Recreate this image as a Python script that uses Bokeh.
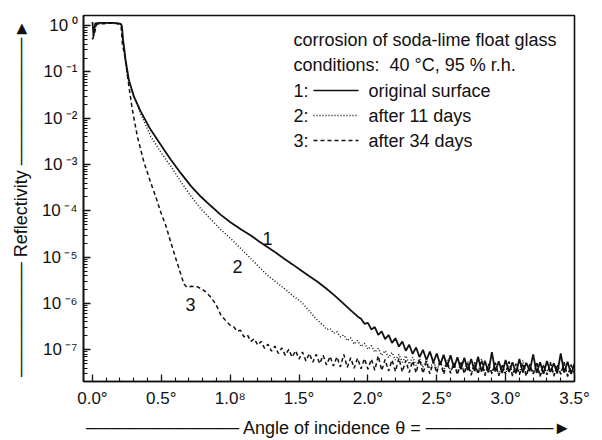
import numpy as np
from bokeh.plotting import figure
from bokeh.models import (Range1d, FixedTicker, LogTicker, CustomJSTickFormatter,
                          Label, Arrow)
from bokeh.embed import file_html
from bokeh.resources import INLINE

FONT = "Liberation Sans"

# ---------------- data (log10 of reflectivity) ----------------
# curve 1: original surface (smooth part)
theta1 = [0.0, 0.008, 0.02, 0.05, 0.10, 0.15, 0.19, 0.205, 0.213, 0.218, 0.222, 0.229,
          0.241, 0.265, 0.302, 0.35, 0.423, 0.52, 0.568, 0.64, 0.714, 0.786, 0.859, 0.93,
          1.004, 1.08, 1.15, 1.21, 1.27, 1.33, 1.39, 1.45, 1.513, 1.57, 1.634, 1.695,
          1.755, 1.815, 1.876, 1.925]
logr1 = [0.08, -0.22, 0.05, 0.06, 0.06, 0.06, 0.05, 0.04, 0.0, -0.15, -0.3, -0.45,
         -0.75, -1.18, -1.54, -1.85, -2.25, -2.68, -2.89, -3.18, -3.46, -3.69, -3.89, -4.08,
         -4.25, -4.40, -4.53, -4.66, -4.78, -4.90, -5.03, -5.15, -5.28, -5.40, -5.53, -5.67,
         -5.82, -5.98, -6.15, -6.28]
# curve 1 noisy tail, from 1.95 deg in steps of 0.025 deg
tail1_start = 1.95
tail1 = [-6.33, -6.44, -6.42, -6.56, -6.51, -6.68, -6.60, -6.77, -6.68, -6.85,
         -6.75, -6.93, -6.82, -7.02, -6.89, -7.09, -6.95, -7.16, -7.00, -7.22,
         -7.04, -7.27, -7.08, -7.32, -7.11, -7.36, -7.12, -7.39, -7.16, -7.42,
         -7.17, -7.44, -7.20, -7.46, -7.15, -7.47, -7.24, -7.49, -7.05, -7.47,
         -7.25, -7.50, -7.22, -7.48, -7.27, -7.51, -7.20, -7.49, -7.28, -7.46,
         -7.10, -7.50, -7.27, -7.52, -7.24, -7.48, -7.29, -7.51, -7.08, -7.49,
         -7.26, -7.52, -7.30]

# curve 2: after 11 days (smooth part)
theta2 = [0.0, 0.01, 0.03, 0.10, 0.15, 0.19, 0.208, 0.215, 0.222, 0.232, 0.254, 0.30,
          0.35, 0.423, 0.50, 0.568, 0.64, 0.714, 0.786, 0.859, 0.93, 1.004, 1.08, 1.15,
          1.21, 1.27, 1.33, 1.39, 1.45, 1.513, 1.55, 1.585, 1.62, 1.654]
logr2 = [-0.28, -0.18, 0.04, 0.05, 0.05, 0.04, 0.02, -0.1, -0.35, -0.6, -1.11, -1.52,
         -1.90, -2.39, -2.75, -3.03, -3.36, -3.68, -3.95, -4.18, -4.40, -4.60, -4.82, -5.03,
         -5.21, -5.39, -5.53, -5.67, -5.82, -5.96, -6.08, -6.20, -6.32, -6.42]
tail2_start = 1.675
tail2 = [-6.47, -6.56, -6.54, -6.64, -6.61, -6.72, -6.68, -6.80, -6.74, -6.88,
         -6.80, -6.93, -6.86, -6.99, -6.91, -7.05, -6.97, -7.12, -7.02, -7.17,
         -7.06, -7.22, -7.10, -7.27, -7.13, -7.31, -7.16, -7.34, -7.19, -7.38,
         -7.22, -7.41, -7.24, -7.44, -7.26, -7.46, -7.22, -7.48, -7.28, -7.50,
         -7.30, -7.47, -7.25, -7.52, -7.31, -7.49, -7.20, -7.53, -7.32, -7.50,
         -7.28, -7.55, -7.33, -7.51, -7.26, -7.54, -7.34, -7.50, -7.23, -7.55,
         -7.32, -7.52, -7.29, -7.56, -7.33, -7.51, -7.27, -7.55, -7.34, -7.52,
         -7.30, -7.56, -7.32, -7.50]

# curve 3: after 34 days (smooth part)
theta3 = [0.0, 0.012, 0.03, 0.10, 0.15, 0.19, 0.208, 0.217, 0.241, 0.265, 0.29, 0.326,
          0.374, 0.423, 0.46, 0.496, 0.531, 0.568, 0.60, 0.629, 0.65, 0.665, 0.685, 0.72,
          0.762, 0.80, 0.823, 0.855, 0.883, 0.91, 0.932, 0.97, 1.0]
logr3 = [-0.3, -0.2, 0.03, 0.05, 0.05, 0.04, 0.0, -0.39, -0.75, -1.32, -1.82, -2.39,
         -2.95, -3.39, -3.70, -4.03, -4.30, -4.67, -4.98, -5.25, -5.45, -5.58, -5.65, -5.63,
         -5.64, -5.70, -5.75, -5.85, -5.96, -6.10, -6.25, -6.38, -6.47]
tail3_start = 1.025
tail3 = [-6.50, -6.60, -6.58, -6.72, -6.68, -6.82, -6.76, -6.90, -6.82, -6.97,
         -6.88, -7.03, -6.92, -7.08, -6.96, -7.12, -6.99, -7.16, -7.02, -7.20,
         -7.05, -7.24, -7.08, -7.27, -7.10, -7.30, -7.12, -7.33, -7.14, -7.35,
         -7.15, -7.37, -7.10, -7.38, -7.17, -7.40, -7.18, -7.41, -7.19, -7.42,
         -7.20, -7.44, -7.13, -7.45, -7.21, -7.46, -7.22, -7.47, -7.18, -7.48,
         -7.23, -7.49, -7.24, -7.50, -7.20, -7.51, -7.25, -7.52, -7.26, -7.50,
         -7.22, -7.53, -7.27, -7.51, -7.28, -7.54, -7.24, -7.52, -7.29, -7.55,
         -7.27, -7.53, -7.22, -7.56, -7.30, -7.52, -7.28, -7.56, -7.31, -7.53,
         -7.25, -7.57, -7.30, -7.54, -7.29, -7.57, -7.31, -7.53, -7.26, -7.58,
         -7.32, -7.54, -7.28, -7.57, -7.31, -7.53, -7.27, -7.58, -7.32, -7.52]
TAIL_STEP = 0.025

x_ticks = [0.0, 0.5, 1.0, 1.5, 2.0, 2.5, 3.0, 3.5]
x_tick_labels = ["0.0°", "0.5°", "1.0⁸", "1.5°", "2.0°", "2.5°", "3.0°", "3.5°"]
x_minor = [0.1, 0.2, 0.3, 0.4, 0.6, 0.7, 0.8, 0.9, 1.1, 1.2, 1.3, 1.4, 1.6, 1.7, 1.8, 1.9,
           2.1, 2.2, 2.3, 2.4, 2.6, 2.7, 2.8, 2.9, 3.1, 3.2, 3.3, 3.4]

x_title = "Angle of incidence θ ="
y_title = "Reflectivity"
legend_title = ["corrosion of soda-lime float glass", "conditions:\u00a0 40 °C, 95 % r.h."]
legend_keys = ["1:", "2:", "3:"]
legend_names = ["original surface", "after 11 days", "after 34 days"]
curve_labels = ["1", "2", "3"]


def full_series(theta, logr, tail_start, tail):
    tx = [round(tail_start + TAIL_STEP * i, 3) for i in range(len(tail))]
    x = list(theta) + tx
    y = [10.0 ** v for v in list(logr) + list(tail)]
    return x, y


x1, y1 = full_series(theta1, logr1, tail1_start, tail1)
x2, y2 = full_series(theta2, logr2, tail2_start, tail2)
x3, y3 = full_series(theta3, logr3, tail3_start, tail3)

# ---------------- figure ----------------
p = figure(width=602, height=440, output_backend="svg", toolbar_location=None,
           x_range=Range1d(-0.065, 3.5), y_range=Range1d(10 ** -7.685, 10 ** 0.22),
           y_axis_type="log",
           min_border_left=83, min_border_right=28, min_border_top=15, min_border_bottom=56)
p.grid.visible = False
p.background_fill_color = "white"
p.border_fill_color = "white"
p.outline_line_color = "#111111"
p.outline_line_width = 1.6

ink = "#111111"
DOT = "1 2"
DASH = "4 3"
p.line(x1, y1, line_color=ink, line_width=1.8)
p.line(x2, y2, line_color=ink, line_width=1.5, line_dash=DOT)
p.line(x3, y3, line_color=ink, line_width=1.5, line_dash=DASH)

# axes
xa = p.xaxis[0]
xa.ticker = FixedTicker(ticks=x_ticks, minor_ticks=x_minor)
xa.formatter = CustomJSTickFormatter(args=dict(t=x_ticks, l=x_tick_labels), code="""
    let best = 0, bd = 1e9;
    for (let i = 0; i < t.length; i++) { const d = Math.abs(t[i] - tick); if (d < bd) { bd = d; best = i; } }
    return l[best];
""")
ya = p.yaxis[0]
ya.ticker = LogTicker(num_minor_ticks=10)
ya.formatter = CustomJSTickFormatter(code="""
    const sup = {"0":"\u2070","1":"\u00b9","2":"\u00b2","3":"\u00b3","4":"\u2074","5":"\u2075",
                 "6":"\u2076","7":"\u2077","8":"\u2078","9":"\u2079","-":"\u207b"};
    const e = Math.round(Math.log10(tick));
    return "10\u2009" + String(e).split("").map(c => sup[c]).join("");
""")
for ax in (xa, ya):
    ax.axis_line_color = ink
    ax.axis_line_width = 1.6
    ax.major_tick_line_color = ink
    ax.minor_tick_line_color = ink
    ax.major_tick_line_width = 1.3
    ax.minor_tick_line_width = 1.1
    ax.major_tick_in = 7
    ax.major_tick_out = 0
    ax.minor_tick_in = 4
    ax.minor_tick_out = 0
    ax.major_label_text_font = FONT
    ax.major_label_text_font_size = "17px"
    ax.major_label_text_color = ink
    ax.axis_label_text_font = FONT
    ax.axis_label_text_font_size = "18px"
    ax.axis_label_text_font_style = "normal"
    ax.axis_label_text_color = ink
xa.major_label_standoff = 7
ya.major_label_standoff = 6

# axis titles drawn as text with line characters forming the arrows
LINE = "\u2500"
HEAD = "\u25ba"
xa.axis_label = LINE * 12 + " " + x_title + " " + LINE * 10 + HEAD
xa.axis_label_standoff = 7
ya.axis_label = LINE * 9 + " " + y_title + " " + LINE * 10 + HEAD
ya.axis_label_standoff = 8


# ---------------- texts inside the frame (screen units, frame bottom-left origin) ----
def add_text(sx, sy, text, size="18px", align="left"):
    p.add_layout(Label(x=sx, y=sy, x_units="screen", y_units="screen", text=text,
                       text_font=FONT, text_font_size=size, text_color=ink,
                       text_align=align, text_baseline="middle"))


def add_line(x0, y0, x1_, y1_, dash="solid"):
    p.add_layout(Arrow(x_start=x0, y_start=y0, x_end=x1_, y_end=y1_,
                       start_units="screen", end_units="screen", end=None,
                       line_color=ink, line_width=1.3, line_dash=dash))


add_text(210, 342, legend_title[0])
add_text(210, 317, legend_title[1])
dashes = ["solid", DOT, DASH]
for i in range(3):
    sy = 291 - 25 * i
    add_text(210, sy, legend_keys[i])
    add_line(230, sy, 275, sy, dash=dashes[i])
    add_text(285, sy, legend_names[i])

add_text(184, 143, curve_labels[0], align="center")
add_text(154, 115, curve_labels[1], align="center")
add_text(107, 77, curve_labels[2], align="center")

open("out.html", "w").write(file_html(p, INLINE))
